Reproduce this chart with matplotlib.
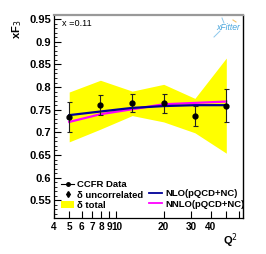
import matplotlib
matplotlib.use('Agg')
import matplotlib.pyplot as plt
from matplotlib.lines import Line2D
from matplotlib.patches import Patch
from matplotlib.ticker import FixedLocator, NullFormatter

# data
q2 = [5.0, 7.9, 12.6, 20.0, 31.6, 50.1]
xf3 = [0.734, 0.761, 0.764, 0.764, 0.736, 0.759]
err_unc = [0.033, 0.022, 0.020, 0.021, 0.022, 0.037]
band_hi = [0.789, 0.815, 0.791, 0.806, 0.775, 0.864]
band_lo = [0.679, 0.707, 0.737, 0.723, 0.699, 0.654]
nlo = [0.738, 0.746, 0.754, 0.758, 0.760, 0.760]
nnlo = [0.723, 0.740, 0.751, 0.762, 0.765, 0.768]

xticks_lab = [4, 5, 6, 7, 8, 9, 10, 20, 30, 40]
xticks_nolab = [50, 60]
yticks = [0.55, 0.6, 0.65, 0.7, 0.75, 0.8, 0.85, 0.9, 0.95]

W, H = 266, 254
fig = plt.figure(figsize=(W / 100, H / 100), dpi=100)
ax = fig.add_axes([54 / W, 1 - 218 / H, (243 - 54) / W, (218 - 15) / H])

font = 'Liberation Sans'

ax.fill_between(q2, band_lo, band_hi, color='#ffff00', lw=0, zorder=1)
ax.plot(q2, nlo, color='#000099', lw=1.6, zorder=3)
ax.plot(q2, nnlo, color='#ff00ff', lw=1.6, zorder=2)
ax.errorbar(q2, xf3, yerr=err_unc, fmt='o', ms=3.5, color='black',
            ecolor='#222222', elinewidth=0.8, capsize=1.8, capthick=0.8, zorder=4)

ax.set_xscale('log')
ax.set_xlim(4, 64)
ax.set_ylim(0.511, 0.959)

ax.xaxis.set_major_locator(FixedLocator(xticks_lab + xticks_nolab))
ax.set_xticklabels([str(v) for v in xticks_lab] + [''] * len(xticks_nolab))
ax.xaxis.set_minor_formatter(NullFormatter())
ax.xaxis.set_minor_locator(FixedLocator([]))
ax.yaxis.set_major_locator(FixedLocator(yticks))
ax.set_yticklabels(['%g' % v for v in yticks])
ax.yaxis.set_minor_locator(FixedLocator([0.52 + 0.01 * i for i in range(44)]))

ax.tick_params(axis='both', which='major', direction='in', length=5, width=0.8,
               labelsize=8, pad=2)
ax.tick_params(axis='x', which='major', labelsize=7.2, pad=3)
ax.tick_params(axis='y', which='minor', direction='in', length=2.5, width=0.6)
for lab in ax.get_xticklabels() + ax.get_yticklabels():
    lab.set_fontfamily(font)
    lab.set_fontweight('bold')

ax.spines['top'].set_color('#999999')
ax.spines['top'].set_linewidth(1.6)
ax.spines['right'].set_linewidth(1.0)
ax.spines['left'].set_linewidth(0.9)
ax.spines['bottom'].set_linewidth(0.9)

fig.text(17 / W, 1 - 29 / H, r'xF$_3$', rotation=90, ha='center', va='center',
         fontsize=8, fontweight='bold', family=font)
fig.text(230 / W, 1 - 241 / H, r'Q$^2$', ha='center', va='center',
         fontsize=8, fontweight='bold', family=font)
fig.text(62 / W, 1 - 24 / H, 'x =0.11', ha='left', va='center', fontsize=6.6, family=font)

# xFitter logo: text plus a few small strokes
fig.text(228 / W, 1 - 28 / H, 'xFitter', ha='center', va='center', fontsize=6.2,
         style='italic', color='#4aa6dc', family=font)
fig.add_artist(Line2D([214 / W, 220 / W], [1 - 37 / H, 1 - 31 / H],
                      color='#8cc8ec', lw=0.7))
fig.add_artist(Line2D([222 / W, 224 / W], [1 - 18 / H, 1 - 23 / H],
                      color='#8cc8ec', lw=0.7))
fig.add_artist(Line2D([233 / W, 236 / W], [1 - 20 / H, 1 - 22 / H],
                      color='#f2c46a', lw=0.8))

plt.rcParams['mathtext.fontset'] = 'custom'
plt.rcParams['mathtext.rm'] = font
plt.rcParams['mathtext.bf'] = font + ':bold'

h1 = [Line2D([], [], color='black', lw=0.8, marker='o', ms=2.5),
      Line2D([], [], color='black', lw=0, marker='d', ms=3),
      Patch(facecolor='#ffff00', edgecolor='none')]
leg1 = fig.legend(h1, ['CCFR Data', 'δ uncorrelated', 'δ total'],
                  loc='center left', bbox_to_anchor=(61 / W, 1 - 195 / H),
                  frameon=False, borderpad=0, borderaxespad=0, handlelength=1.4,
                  handletextpad=0.3, labelspacing=0.12,
                  prop={'family': font, 'weight': 'bold', 'size': 6.8})
h2 = [Line2D([], [], color='#000099', lw=1.3),
      Line2D([], [], color='#ff00ff', lw=1.3)]
leg2 = fig.legend(h2, ['NLO(pQCD+NC)', 'NNLO(pQCD+NC)'],
                  loc='center left', bbox_to_anchor=(149 / W, 1 - 199 / H),
                  frameon=False, borderpad=0, borderaxespad=0, handlelength=1.4,
                  handletextpad=0.3, labelspacing=0.12,
                  prop={'family': font, 'weight': 'bold', 'size': 6.8})

fig.savefig('out.png', dpi=100)
